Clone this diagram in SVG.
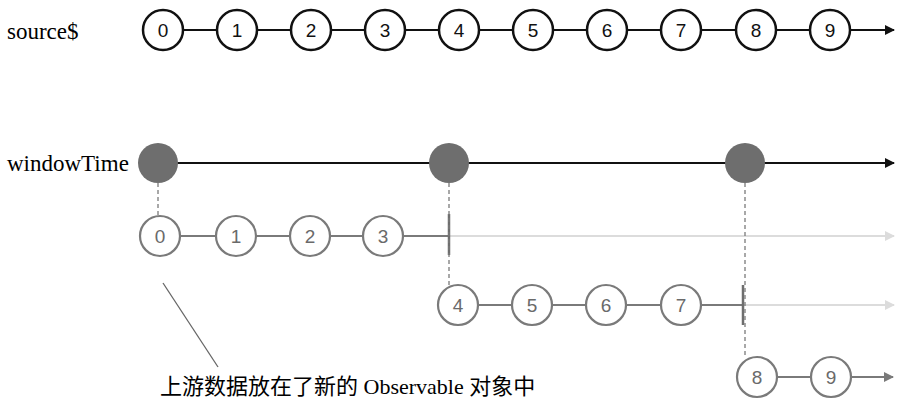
<svg xmlns="http://www.w3.org/2000/svg" width="900" height="404" viewBox="0 0 900 404">
<style>
.lbl{font-family:"Liberation Serif",serif;font-size:23px;fill:#000}
.sc circle{fill:#fff;stroke:#111;stroke-width:2.5}
.sc text{font-family:"Liberation Sans",Arial,sans-serif;font-size:19px;fill:#111;text-anchor:middle}
.wc circle{fill:#fff;stroke:#7a7a7a;stroke-width:2.2}
.wc text{font-family:"Liberation Sans",Arial,sans-serif;font-size:19px;fill:#6a6a6a;text-anchor:middle}
.tc circle{fill:#6e6e6e;stroke:none}
.blk{stroke:#111;stroke-width:2;fill:none}
.gry{stroke:#7a7a7a;stroke-width:2;fill:none}
.lt{stroke:#dcdcdc;stroke-width:2;fill:none}
.dash{stroke:#7a7a7a;stroke-width:1.3;stroke-dasharray:4 3;fill:none}
.tick{stroke:#6e6e6e;stroke-width:2.5}
</style>
<defs>
<marker id="ab" markerWidth="10" markerHeight="10" refX="9" refY="5" orient="auto" markerUnits="userSpaceOnUse" viewBox="0 0 10 10"><path d="M0,0 L10,5 L0,10 z" fill="#111"/></marker>
<marker id="ag" markerWidth="10" markerHeight="10" refX="9" refY="5" orient="auto" markerUnits="userSpaceOnUse" viewBox="0 0 10 10"><path d="M0,0 L10,5 L0,10 z" fill="#7a7a7a"/></marker>
<marker id="al" markerWidth="10" markerHeight="10" refX="9" refY="5" orient="auto" markerUnits="userSpaceOnUse" viewBox="0 0 10 10"><path d="M0,0 L10,5 L0,10 z" fill="#dcdcdc"/></marker>
</defs>
<text class="lbl" x="7" y="39">source$</text>
<text class="lbl" x="7" y="171">windowTime</text>
<g id="connectors">
<line class="blk" x1="163" y1="30" x2="894" y2="30" marker-end="url(#ab)"/>
<line class="blk" x1="158" y1="163" x2="894" y2="163" marker-end="url(#ab)"/>
<line class="gry" x1="160" y1="236" x2="449" y2="236"/>
<line class="lt" x1="449" y1="236" x2="894" y2="236" marker-end="url(#al)"/>
<line class="tick" x1="449" y1="214" x2="449" y2="255"/>
<line class="gry" x1="458" y1="305" x2="743" y2="305"/>
<line class="lt" x1="743" y1="305" x2="894" y2="305" marker-end="url(#al)"/>
<line class="tick" x1="743" y1="285" x2="743" y2="325"/>
<line class="gry" x1="757" y1="377" x2="893" y2="377" marker-end="url(#ag)"/>
<line class="dash" x1="158" y1="183" x2="158" y2="216"/>
<line class="dash" x1="449" y1="183" x2="449" y2="285"/>
<line class="dash" x1="745" y1="183" x2="745" y2="357"/>
<line x1="163" y1="283" x2="218" y2="367" stroke="#666" stroke-width="1.3"/>
</g>
<g id="src0" class="sc"><circle cx="163" cy="30" r="20"/><text x="163" y="37">0</text></g>
<g id="src1" class="sc"><circle cx="237" cy="30" r="20"/><text x="237" y="37">1</text></g>
<g id="src2" class="sc"><circle cx="311" cy="30" r="20"/><text x="311" y="37">2</text></g>
<g id="src3" class="sc"><circle cx="385" cy="30" r="20"/><text x="385" y="37">3</text></g>
<g id="src4" class="sc"><circle cx="459" cy="30" r="20"/><text x="459" y="37">4</text></g>
<g id="src5" class="sc"><circle cx="533" cy="30" r="20"/><text x="533" y="37">5</text></g>
<g id="src6" class="sc"><circle cx="607" cy="30" r="20"/><text x="607" y="37">6</text></g>
<g id="src7" class="sc"><circle cx="681" cy="30" r="20"/><text x="681" y="37">7</text></g>
<g id="src8" class="sc"><circle cx="756" cy="30" r="20"/><text x="756" y="37">8</text></g>
<g id="src9" class="sc"><circle cx="830" cy="30" r="20"/><text x="830" y="37">9</text></g>
<g id="t0" class="tc"><circle cx="158" cy="163" r="20"/></g>
<g id="t1" class="tc"><circle cx="449" cy="163" r="20"/></g>
<g id="t2" class="tc"><circle cx="745" cy="163" r="20"/></g>
<g id="w0" class="wc"><circle cx="160" cy="236" r="20"/><text x="160" y="243">0</text></g>
<g id="w1" class="wc"><circle cx="236" cy="236" r="20"/><text x="236" y="243">1</text></g>
<g id="w2" class="wc"><circle cx="310" cy="236" r="20"/><text x="310" y="243">2</text></g>
<g id="w3" class="wc"><circle cx="383" cy="236" r="20"/><text x="383" y="243">3</text></g>
<g id="w4" class="wc"><circle cx="458" cy="305" r="20"/><text x="458" y="312">4</text></g>
<g id="w5" class="wc"><circle cx="532" cy="305" r="20"/><text x="532" y="312">5</text></g>
<g id="w6" class="wc"><circle cx="606" cy="305" r="20"/><text x="606" y="312">6</text></g>
<g id="w7" class="wc"><circle cx="681" cy="305" r="20"/><text x="681" y="312">7</text></g>
<g id="w8" class="wc"><circle cx="757" cy="377" r="20"/><text x="757" y="384">8</text></g>
<g id="w9" class="wc"><circle cx="831" cy="377" r="20"/><text x="831" y="384">9</text></g>
<text x="160" y="394" style="font-family:'Liberation Serif','Noto Sans CJK SC',serif;font-size:22px;fill:#000">上游数据放在了新的 Observable 对象中</text>
</svg>
